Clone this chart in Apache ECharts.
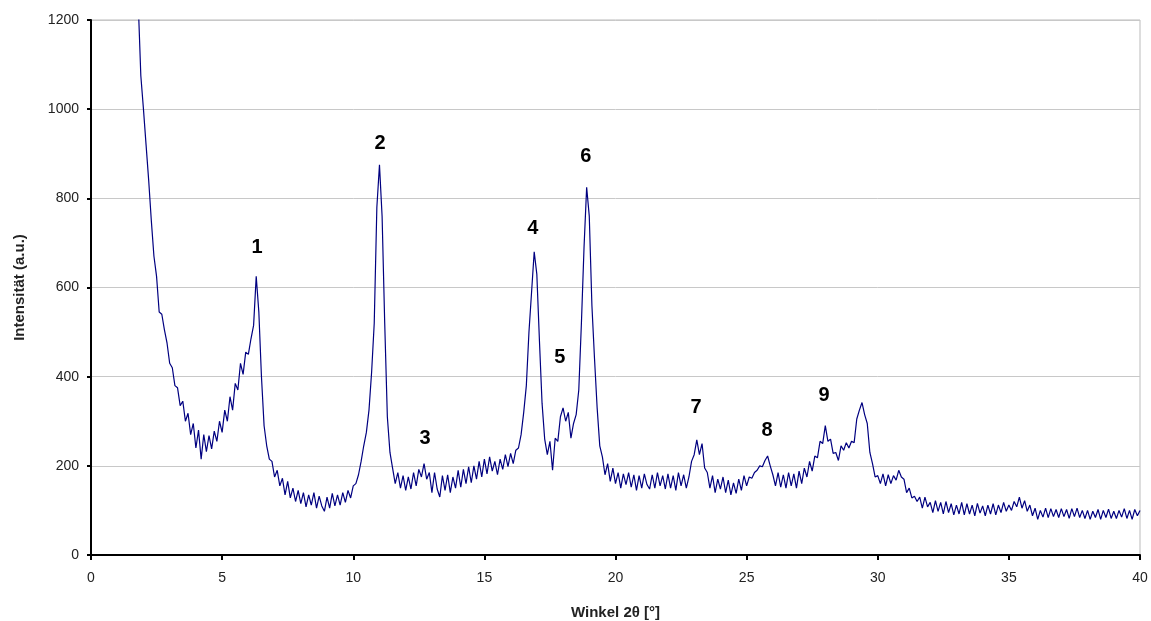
<!DOCTYPE html>
<html>
<head>
<meta charset="utf-8">
<script src="https://cdn.jsdelivr.net/npm/echarts@6/dist/echarts.min.js"></script>
<style>
  html, body { margin: 0; padding: 0; background: #fff; }
  #xrd { width: 1151px; height: 621px; }
</style>
</head>
<body>
<div id="xrd"></div>
<script>
// Messpunkte: 2θ ab 1.8° in Schritten von 0.1°
const startAngle = 1.8;
const stepAngle = 0.1;
const intensity = [
  1240, 1075,                                           // 1.8 - 1.9
  1000, 920, 840, 750, 670, 625, 545, 540, 505, 475,    // 2.x
  430, 420, 380, 375, 335, 345, 300, 318, 270, 295,     // 3.x
  240, 280, 215, 270, 232, 268, 238, 278, 255, 300,     // 4.x
  275, 325, 300, 355, 325, 385, 370, 430, 405, 455,     // 5.x
  450, 485, 515, 625, 545, 400, 290, 245, 215, 210,     // 6.x
  175, 190, 155, 172, 135, 165, 128, 150, 120, 145,     // 7.x
  115, 140, 108, 135, 112, 140, 105, 132, 110, 98,      // 8.x
  130, 105, 138, 110, 135, 112, 140, 118, 145, 128,     // 9.x
  155, 160, 180, 210, 245, 275, 325, 410, 520, 780,     // 10.x
  875, 760, 520, 310, 230, 195, 160, 185, 150, 178,     // 11.x
  145, 175, 148, 185, 155, 192, 175, 205, 170, 185,     // 12.x
  140, 185, 148, 130, 178, 145, 180, 140, 175, 150,     // 13.x
  190, 152, 192, 160, 198, 162, 200, 170, 210, 175,     // 14.x
  215, 182, 220, 188, 210, 180, 215, 192, 225, 198,     // 15.x
  228, 205, 235, 240, 270, 320, 380, 500, 590, 680,     // 16.x
  630, 480, 340, 260, 225, 255, 190, 262, 255, 310,     // 17.x
  330, 300, 320, 262, 295, 315, 370, 520, 690, 825,     // 18.x
  760, 560, 440, 330, 245, 220, 180, 205, 165, 195,     // 19.x
  160, 185, 150, 182, 158, 185, 152, 180, 145, 178,     // 20.x
  150, 182, 158, 148, 180, 150, 185, 155, 178, 148,     // 21.x
  182, 150, 178, 145, 185, 155, 180, 150, 175, 210,     // 22.x
  225, 258, 225, 250, 195, 185, 150, 178, 140, 170,     // 23.x
  148, 175, 140, 168, 135, 162, 138, 170, 145, 178,     // 24.x
  155, 175, 172, 185, 190, 200, 198, 212, 222, 200,     // 25.x
  180, 155, 185, 152, 180, 150, 185, 155, 182, 150,     // 26.x
  188, 160, 195, 175, 210, 188, 222, 218, 255, 250,     // 27.x
  290, 255, 260, 228, 230, 212, 245, 235, 252, 240,     // 28.x
  255, 252, 305, 325, 342, 315, 295, 230, 205, 175,     // 29.x
  178, 160, 182, 155, 180, 160, 178, 168, 190, 175,     // 30.x
  170, 140, 150, 128, 132, 120, 130, 105, 130, 108,     // 31.x
  118, 95, 122, 98, 118, 92, 120, 95, 115, 90,          // 32.x
  112, 92, 118, 90, 115, 92, 112, 88, 116, 94,          // 33.x
  110, 88, 112, 92, 115, 90, 112, 95, 118, 98,          // 34.x
  112, 100, 120, 108, 130, 105, 122, 98, 112, 88,       // 35.x
  105, 80, 100, 85, 105, 84, 104, 86, 102, 84,          // 36.x
  104, 86, 102, 82, 104, 86, 105, 84, 100, 82,          // 37.x
  100, 80, 98, 84, 102, 80, 100, 84, 103, 82,           // 38.x
  98, 82, 100, 85, 104, 82, 100, 80, 102, 88,           // 39.x
  100                                                   // 40.0
];

// Beschriftung der Reflexe
const peakNames = ['1', '2', '3', '4', '5', '6', '7', '8', '9'];
const peakX = [6.33, 11.02, 12.74, 16.85, 17.88, 18.87, 23.07, 25.78, 27.95];
const peakY = [689, 924, 262, 733, 444, 893, 330, 280, 357];

const pattern = intensity.map(function (v, i) {
  return [+(startAngle + i * stepAngle).toFixed(2), v];
});
const peaks = peakNames.map(function (n, i) {
  return { value: [peakX[i], peakY[i]], name: n };
});

const myChart = echarts.init(document.getElementById('xrd'));

const axisFont = { fontFamily: 'Liberation Sans', fontSize: 14, color: '#222' };

const option = {
  backgroundColor: '#fff',
  animation: false,
  grid: {
    left: 91, right: 11, top: 20, bottom: 66,
    outerBoundsMode: 'none',
    show: true, borderColor: '#bbb', borderWidth: 1
  },
  xAxis: {
    type: 'value',
    min: 0, max: 40, interval: 5,
    name: 'Winkel 2θ [°]',
    nameLocation: 'middle',
    nameGap: 50,
    nameTextStyle: { fontFamily: 'Liberation Sans', fontSize: 15, fontWeight: 'bold', color: '#222' },
    axisLine: { lineStyle: { color: '#000', width: 2 } },
    axisTick: { show: true, inside: false, length: 5, lineStyle: { color: '#000', width: 2 } },
    axisLabel: Object.assign({ margin: 16 }, axisFont),
    splitLine: { show: false }
  },
  yAxis: {
    type: 'value',
    min: 0, max: 1200, interval: 200,
    name: 'Intensität (a.u.)',
    nameLocation: 'middle',
    nameGap: 64,
    nameRotate: 90,
    nameTextStyle: { fontFamily: 'Liberation Sans', fontSize: 15, fontWeight: 'bold', color: '#222' },
    axisLine: { show: true, lineStyle: { color: '#000', width: 2 } },
    axisTick: { show: true, inside: false, length: 4, lineStyle: { color: '#000', width: 2 } },
    axisLabel: Object.assign({ margin: 12, formatter: function (v) { return String(v); } }, axisFont),
    splitLine: { show: true, lineStyle: { color: '#c8c8c8', width: 1 } }
  },
  series: [
    {
      name: 'XRD',
      type: 'line',
      data: pattern,
      showSymbol: false,
      clip: true,
      lineStyle: { color: '#000080', width: 1.2 },
      z: 3
    },
    {
      name: 'Reflexe',
      type: 'scatter',
      data: peaks,
      symbolSize: 0,
      itemStyle: { opacity: 1 },
      label: {
        show: true,
        position: 'inside',
        formatter: '{b}',
        fontFamily: 'Liberation Sans',
        fontSize: 20,
        fontWeight: 'bold',
        color: '#000',
        opacity: 1
      },
      z: 4
    }
  ]
};

myChart.setOption(option);
</script>
</body>
</html>
